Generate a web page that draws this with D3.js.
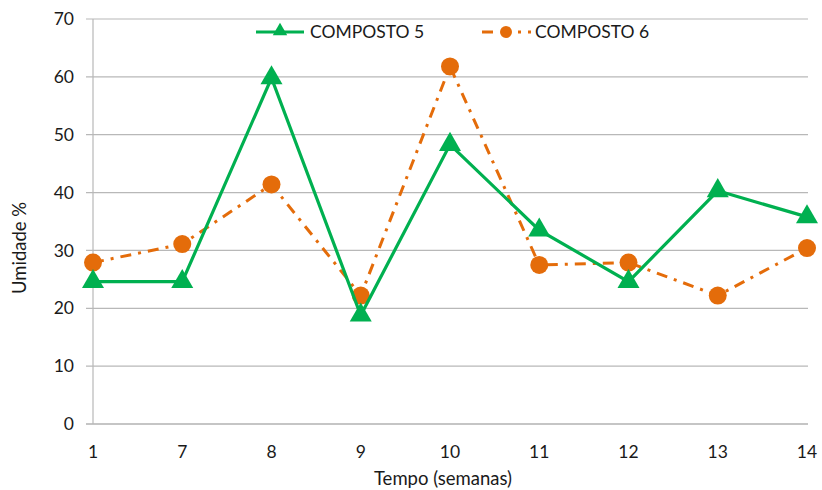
<!DOCTYPE html>
<html><head><meta charset="utf-8">
<script src="https://cdn.jsdelivr.net/npm/d3@7"></script>
<style>body{margin:0;background:#fff}svg{display:block}text{font-family:Lato,"Open Sans",sans-serif;fill:#1a1a1a}</style>
</head><body><svg id="c" width="822" height="490"></svg>
<script>
const categories = ["1","7","8","9","10","11","12","13","14"];
const composto5 = [24.6,24.6,59.8,18.8,48.3,33.5,24.6,40.3,35.8];
const composto6 = [27.9,31.1,41.4,22.2,61.8,27.5,27.9,22.2,30.4];
const yTicks = [0,10,20,30,40,50,60,70];
const seriesNames = ["COMPOSTO 5","COMPOSTO 6"];

const svg = d3.select("#c");
const x = d3.scalePoint().domain(categories).range([93,807]);
const y = d3.scaleLinear().domain([0,70]).range([424,19]);
const green = "#00B050", orange = "#E46C0A";

svg.append("g").selectAll("line").data(yTicks).join("line")
  .attr("x1",86).attr("x2",808).attr("y1",d=>y(d)).attr("y2",d=>y(d))
  .attr("stroke",d=>d===0?"#8c8c8c":"#b8b8b8").attr("stroke-width",1.2);
svg.append("line").attr("x1",93).attr("x2",93).attr("y1",y(70)).attr("y2",y(0)).attr("stroke","#b8b8b8").attr("stroke-width",1.2);

svg.append("g").selectAll("text").data(yTicks).join("text")
  .attr("x",74).attr("y",d=>y(d)).attr("dy","0.35em").attr("text-anchor","end")
  .attr("font-size",17.5).text(d=>d);
svg.append("g").selectAll("text").data(categories).join("text")
  .attr("x",d=>x(d)).attr("y",452).attr("dy","0.35em").attr("text-anchor","middle")
  .attr("font-size",17.5).text(d=>d);
svg.append("text").attr("x",443).attr("y",479).attr("dy","0.35em").attr("text-anchor","middle").attr("font-size",18.5).text("Tempo (semanas)");
svg.append("text").attr("transform","translate(20,248) rotate(-90)").attr("dy","0.35em").attr("text-anchor","middle").attr("font-size",18.5).text("Umidade %");

const line = d3.line().x((d,i)=>x(categories[i])).y(d=>y(d));
const tri = d3.symbol().type(d3.symbolTriangle).size(210);
const tri2 = d3.symbol().type(d3.symbolTriangle).size(90);

svg.append("path").datum(composto6).attr("d",line).attr("fill","none").attr("stroke",orange)
  .attr("stroke-width",3).attr("stroke-dasharray","11,7,3,7");
svg.append("g").selectAll("circle").data(composto6).join("circle")
  .attr("cx",(d,i)=>x(categories[i])).attr("cy",d=>y(d)).attr("r",9).attr("fill",orange);
svg.append("path").datum(composto5).attr("d",line).attr("fill","none").attr("stroke",green).attr("stroke-width",3.2);
svg.append("g").selectAll("path.t").data(composto5).join("path")
  .attr("transform",(d,i)=>`translate(${x(categories[i])},${y(d)})`).attr("d",tri).attr("fill",green);

const lg = svg.append("g");
lg.append("line").attr("x1",256).attr("x2",304).attr("y1",32).attr("y2",32).attr("stroke",green).attr("stroke-width",3.2);
lg.append("path").attr("transform","translate(280,31)").attr("d",tri2).attr("fill",green);
lg.append("text").attr("x",310).attr("y",32).attr("dy","0.35em").attr("font-size",17.5).text(seriesNames[0]);
lg.append("line").attr("x1",482).attr("x2",531).attr("y1",32).attr("y2",32).attr("stroke",orange).attr("stroke-width",3).attr("stroke-dasharray","11,7,3,7");
lg.append("rect").attr("x",494).attr("y",25).attr("width",24).attr("height",14).attr("fill","#fff");
lg.append("circle").attr("cx",506).attr("cy",32).attr("r",6).attr("fill",orange);
lg.append("text").attr("x",535).attr("y",32).attr("dy","0.35em").attr("font-size",17.5).text(seriesNames[1]);
</script></body></html>
